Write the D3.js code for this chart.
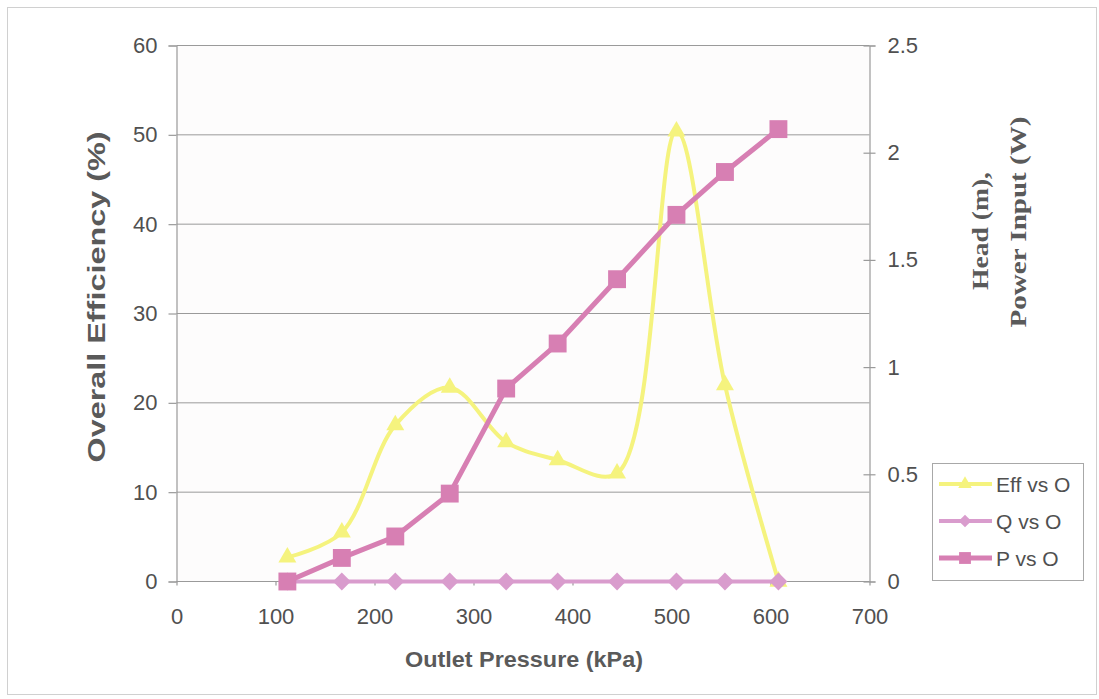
<!DOCTYPE html>
<html>
<head>
<meta charset="utf-8">
<script src="https://cdn.jsdelivr.net/npm/d3@7/dist/d3.min.js"></script>
<style>
  body { margin: 0; background: #ffffff; }
  svg { display: block; }
</style>
</head>
<body>
<svg id="chart" width="1099" height="699"></svg>
<script>
// Outlet pressure (kPa) for each test point
const pressure   = [112, 167, 221, 276, 333, 385, 445, 505, 554, 608];
// Overall efficiency (%) – left axis
const efficiency = [2.7, 5.5, 17.5, 21.7, 15.6, 13.6, 12.1, 50.4, 22.0, 0];
// Flow (Q) – right axis
const flow       = [0, 0, 0, 0, 0, 0, 0, 0, 0, 0];
// Power input (W) – right axis
const power      = [0, 0.11, 0.21, 0.41, 0.90, 1.11, 1.41, 1.71, 1.91, 2.11];

const xTicks     = [0, 100, 200, 300, 400, 500, 600, 700];
const leftTicks  = [0, 10, 20, 30, 40, 50, 60];
const rightTicks = [0, 0.5, 1, 1.5, 2, 2.5];
const seriesNames = ["Eff vs O", "Q vs O", "P vs O"];

const svg = d3.select("#chart");
const plot = { left: 176.5, right: 869.5, top: 45.5, bottom: 581.5 };

const x  = d3.scaleLinear().domain([0, 700]).range([plot.left, plot.right]);
const yL = d3.scaleLinear().domain([0, 60]).range([plot.bottom, plot.top]);
const yR = d3.scaleLinear().domain([0, 2.5]).range([plot.bottom, plot.top]);

const textColor = "#505050";
const gridColor = "#9a9a9a";
const colors = { eff: "#f5f37e", q: "#d99ccd", p: "#d77fb3" };

// outer frame
svg.append("rect").attr("x", 7.5).attr("y", 7.5).attr("width", 1089).attr("height", 687)
  .attr("fill", "#ffffff").attr("stroke", "#d0d0d0").attr("stroke-width", 1);

// plot area
svg.append("rect").attr("x", plot.left).attr("y", plot.top)
  .attr("width", plot.right - plot.left).attr("height", plot.bottom - plot.top)
  .attr("fill", "#fdfcfc");

// horizontal gridlines
svg.append("g").selectAll("line").data(leftTicks).join("line")
  .attr("x1", plot.left).attr("x2", plot.right)
  .attr("y1", d => yL(d)).attr("y2", d => yL(d))
  .attr("stroke", gridColor).attr("stroke-width", 1);

// left axis
const gLeft = svg.append("g").attr("transform", `translate(${plot.left},0)`)
  .call(d3.axisLeft(yL).tickValues(leftTicks).tickSize(8).tickPadding(11).tickFormat(d3.format("d")));
// right axis
const gRight = svg.append("g").attr("transform", `translate(${plot.right},0)`)
  .call(d3.axisRight(yR).tickValues(rightTicks).tickSize(6).tickPadding(12).tickFormat(d => String(d)));
gRight.selectAll(".tick line").attr("x1", -6);
// bottom axis
const gBottom = svg.append("g").attr("transform", `translate(0,${plot.bottom})`)
  .call(d3.axisBottom(x).tickValues(xTicks).tickSize(4).tickPadding(23).tickFormat(d3.format("d")));

[gLeft, gRight, gBottom].forEach(g => {
  g.select(".domain").attr("stroke", gridColor).attr("stroke-width", 1.2);
  g.selectAll(".tick line").attr("stroke", gridColor).attr("stroke-width", 1.2);
  g.selectAll(".tick text").attr("fill", textColor)
    .style("font-family", "'Liberation Sans', Arial, sans-serif").style("font-size", "22px");
});
gBottom.select(".domain").attr("stroke", "none");

// axis titles
svg.append("text")
  .attr("transform", "translate(105,297) rotate(-90)")
  .attr("text-anchor", "middle")
  .attr("textLength", 331).attr("lengthAdjust", "spacingAndGlyphs")
  .attr("fill", "#5a5a5a")
  .style("font-family", "'Liberation Sans', Arial, sans-serif")
  .style("font-size", "23px").style("font-weight", "bold")
  .text("Overall Efficiency (%)");

svg.append("text")
  .attr("x", 524).attr("y", 667)
  .attr("text-anchor", "middle")
  .attr("textLength", 238).attr("lengthAdjust", "spacingAndGlyphs")
  .attr("fill", "#5a5a5a")
  .style("font-family", "'Liberation Sans', Arial, sans-serif")
  .style("font-size", "22px").style("font-weight", "bold")
  .text("Outlet Pressure (kPa)");

const rightTitle = [
  { text: "Head (m),", x: 988, y: 231, len: 118 },
  { text: "Power Input (W)", x: 1026, y: 222, len: 211 }
];
svg.append("g").selectAll("text").data(rightTitle).join("text")
  .attr("transform", d => `translate(${d.x},${d.y}) rotate(-90)`)
  .attr("text-anchor", "middle")
  .attr("textLength", d => d.len).attr("lengthAdjust", "spacingAndGlyphs")
  .attr("fill", "#5a5a5a")
  .style("font-family", "'Liberation Serif', 'Times New Roman', serif")
  .style("font-size", "23px").style("font-weight", "bold")
  .text(d => d.text);

// series
const effData = pressure.map((p, i) => [p, efficiency[i]]);
const qData   = pressure.map((p, i) => [p, flow[i]]);
const pData   = pressure.map((p, i) => [p, power[i]]);

const triangle = d3.symbol().type(d3.symbolTriangle).size(140);
const diamond  = d3.symbol().type(d3.symbolSquare).size(160);
const square   = d3.symbol().type(d3.symbolSquare).size(320);

// efficiency (smoothed line, left axis)
svg.append("path").datum(effData)
  .attr("d", d3.line().x(d => x(d[0])).y(d => yL(d[1])).curve(d3.curveCatmullRom.alpha(0.5)))
  .attr("fill", "none").attr("stroke", colors.eff).attr("stroke-width", 4);
svg.append("g").selectAll("path").data(effData).join("path")
  .attr("transform", d => `translate(${x(d[0])},${yL(d[1])})`)
  .attr("d", triangle).attr("fill", colors.eff);

// flow (right axis)
svg.append("path").datum(qData)
  .attr("d", d3.line().x(d => x(d[0])).y(d => yR(d[1])))
  .attr("fill", "none").attr("stroke", colors.q).attr("stroke-width", 4);
svg.append("g").selectAll("path").data(qData).join("path")
  .attr("transform", d => `translate(${x(d[0])},${yR(d[1])}) rotate(45)`)
  .attr("d", diamond).attr("fill", colors.q);

// power (right axis)
svg.append("path").datum(pData)
  .attr("d", d3.line().x(d => x(d[0])).y(d => yR(d[1])))
  .attr("fill", "none").attr("stroke", colors.p).attr("stroke-width", 5);
svg.append("g").selectAll("path").data(pData).join("path")
  .attr("transform", d => `translate(${x(d[0])},${yR(d[1])})`)
  .attr("d", square).attr("fill", colors.p);

// legend
const legend = svg.append("g");
legend.append("rect").attr("x", 932.5).attr("y", 463.5).attr("width", 151).attr("height", 117)
  .attr("fill", "#ffffff").attr("stroke", "#a8a8a8").attr("stroke-width", 1);
const legendItems = [
  { name: seriesNames[0], color: colors.eff, sym: d3.symbol().type(d3.symbolTriangle).size(80), rot: 0, w: 4 },
  { name: seriesNames[1], color: colors.q,   sym: d3.symbol().type(d3.symbolSquare).size(80), rot: 45, w: 4 },
  { name: seriesNames[2], color: colors.p,   sym: d3.symbol().type(d3.symbolSquare).size(140), rot: 0, w: 5 }
];
const li = legend.selectAll("g.item").data(legendItems).join("g")
  .attr("class", "item")
  .attr("transform", (d, i) => `translate(0,${484 + i * 37})`);
li.append("line").attr("x1", 939).attr("x2", 992).attr("y1", 0).attr("y2", 0)
  .attr("stroke", d => d.color).attr("stroke-width", d => d.w);
li.append("path").attr("d", d => d.sym())
  .attr("transform", d => `translate(965,0) rotate(${d.rot})`)
  .attr("fill", d => d.color);
li.append("text").attr("x", 996).attr("y", 0).attr("dy", "0.36em")
  .attr("fill", textColor)
  .style("font-family", "'Liberation Sans', Arial, sans-serif").style("font-size", "21px")
  .text(d => d.name);
</script>
</body>
</html>
